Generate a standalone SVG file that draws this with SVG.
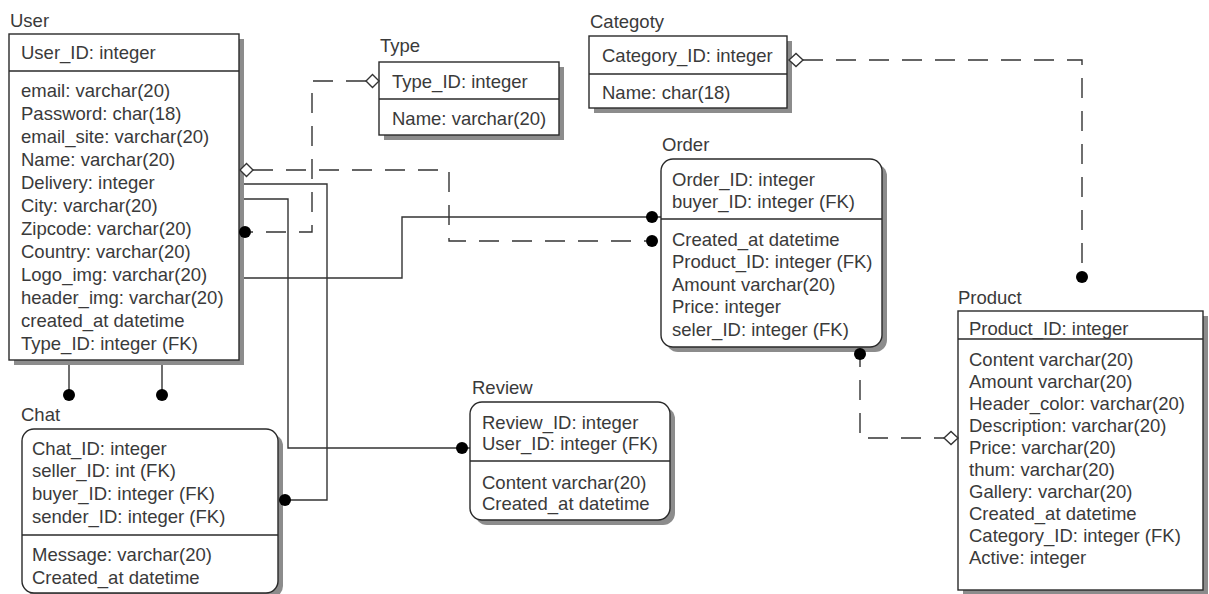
<svg xmlns="http://www.w3.org/2000/svg" width="1209" height="594" viewBox="0 0 1209 594">
<style>
.box{fill:#fff;stroke:#2a2a2a;stroke-width:1.4}
.sh{fill:#8c8c8c}
.dv{stroke:#2a2a2a;stroke-width:1.4}
text{font-family:"Liberation Sans",Arial,sans-serif;font-size:18.5px;fill:#3a3a3a}
.ln{fill:none;stroke:#333;stroke-width:1.4}
.da{stroke-dasharray:20 13}
.dot{fill:#000}
.dia{fill:#fff;stroke:#333;stroke-width:1.4}
</style>
<rect width="1209" height="594" fill="#fff"/>
<g id="connectors">
<path class="ln da" d="M366,81 H312 V232 H251"/>
<path class="ln da" d="M253,170 H449 V241 H646"/>
<path class="ln" d="M244,278 H402 V217 H661"/>
<path class="ln" d="M244,184 H327 V500 H283"/>
<path class="ln" d="M244,199 H288 V448 H470"/>
<path class="ln" d="M69,360 V395 M162,360 V395"/>
<path class="ln da" d="M803,60 H1082 V277"/>
<path class="ln da" d="M860,347 V438 H944"/>
</g>
<g id="user">
<text x="10" y="27">User</text>
<rect class="sh" x="14" y="39" width="230" height="326"/>
<rect class="box" x="9" y="34" width="230" height="326"/>
<line class="dv" x1="9" y1="71" x2="239" y2="71"/>
<text x="21" y="59">User_ID: integer</text>
<text x="21" y="96.5">email: varchar(20)</text>
<text x="21" y="119.5">Password: char(18)</text>
<text x="21" y="142.5">email_site: varchar(20)</text>
<text x="21" y="165.5">Name: varchar(20)</text>
<text x="21" y="188.5">Delivery: integer</text>
<text x="21" y="211.5">City: varchar(20)</text>
<text x="21" y="234.5">Zipcode: varchar(20)</text>
<text x="21" y="257.5">Country: varchar(20)</text>
<text x="21" y="280.5">Logo_img: varchar(20)</text>
<text x="21" y="303.5">header_img: varchar(20)</text>
<text x="21" y="326.5">created_at datetime</text>
<text x="21" y="349.5">Type_ID: integer (FK)</text>
</g>
<g id="type">
<text x="380" y="52">Type</text>
<rect class="sh" x="384" y="67" width="180" height="73"/>
<rect class="box" x="379" y="62" width="180" height="73"/>
<line class="dv" x1="379" y1="99" x2="559" y2="99"/>
<text x="392" y="87.5">Type_ID: integer</text>
<text x="392" y="124.5">Name: varchar(20)</text>
</g>
<g id="category">
<text x="590" y="28">Categoty</text>
<rect class="sh" x="594" y="41" width="198" height="72"/>
<rect class="box" x="589" y="36" width="198" height="72"/>
<line class="dv" x1="589" y1="74" x2="787" y2="74"/>
<text x="602" y="61.5">Category_ID: integer</text>
<text x="602" y="98.5">Name: char(18)</text>
</g>
<g id="order">
<text x="662" y="151">Order</text>
<rect class="sh" x="666" y="164" width="221" height="188" rx="12"/>
<rect class="box" x="661" y="159" width="221" height="188" rx="12"/>
<line class="dv" x1="661" y1="219" x2="882" y2="219"/>
<text x="672" y="185.5">Order_ID: integer</text>
<text x="672" y="208">buyer_ID: integer (FK)</text>
<text x="672" y="245.5">Created_at datetime</text>
<text x="672" y="268">Product_ID: integer (FK)</text>
<text x="672" y="290.5">Amount varchar(20)</text>
<text x="672" y="313">Price: integer</text>
<text x="672" y="335.5">seler_ID: integer (FK)</text>
</g>
<g id="product">
<text x="958" y="304">Product</text>
<rect class="sh" x="963" y="316" width="245" height="279"/>
<rect class="box" x="958" y="311" width="245" height="279"/>
<line class="dv" x1="958" y1="339" x2="1203" y2="339"/>
<text x="969" y="335">Product_ID: integer</text>
<text x="969" y="365.5">Content varchar(20)</text>
<text x="969" y="387.6">Amount varchar(20)</text>
<text x="969" y="409.7">Header_color: varchar(20)</text>
<text x="969" y="431.8">Description: varchar(20)</text>
<text x="969" y="453.9">Price: varchar(20)</text>
<text x="969" y="476">thum: varchar(20)</text>
<text x="969" y="498.1">Gallery: varchar(20)</text>
<text x="969" y="520.2">Created_at datetime</text>
<text x="969" y="542.3">Category_ID: integer (FK)</text>
<text x="969" y="564.4">Active: integer</text>
</g>
<g id="chat">
<text x="21" y="421">Chat</text>
<rect class="sh" x="27" y="434" width="256" height="164" rx="12"/>
<rect class="box" x="22" y="429" width="256" height="164" rx="12"/>
<line class="dv" x1="22" y1="535" x2="278" y2="535"/>
<text x="32" y="454.5">Chat_ID: integer</text>
<text x="32" y="477.2">seller_ID: int (FK)</text>
<text x="32" y="499.9">buyer_ID: integer (FK)</text>
<text x="32" y="522.6">sender_ID: integer (FK)</text>
<text x="32" y="560.5">Message: varchar(20)</text>
<text x="32" y="583.5">Created_at datetime</text>
</g>
<g id="review">
<text x="472" y="394">Review</text>
<rect class="sh" x="475" y="407" width="200" height="118" rx="12"/>
<rect class="box" x="470" y="402" width="200" height="118" rx="12"/>
<line class="dv" x1="470" y1="461" x2="670" y2="461"/>
<text x="482" y="428.5">Review_ID: integer</text>
<text x="482" y="450">User_ID: integer (FK)</text>
<text x="482" y="488.5">Content varchar(20)</text>
<text x="482" y="510">Created_at datetime</text>
</g>
<g id="markers">
<polygon class="dia" points="366,81 372.5,74.5 379,81 372.5,87.5"/>
<polygon class="dia" points="240,170 246.5,163.5 253,170 246.5,176.5"/>
<polygon class="dia" points="789,60 796,53.5 803,60 796,66.5"/>
<polygon class="dia" points="944,438 951,431.5 958,438 951,444.5"/>
<circle class="dot" cx="245" cy="232" r="6"/>
<circle class="dot" cx="652" cy="217" r="6"/>
<circle class="dot" cx="652" cy="241" r="6"/>
<circle class="dot" cx="285" cy="500" r="6"/>
<circle class="dot" cx="462" cy="448" r="6"/>
<circle class="dot" cx="69" cy="395" r="6"/>
<circle class="dot" cx="162" cy="395" r="6"/>
<circle class="dot" cx="1082" cy="277" r="6"/>
<circle class="dot" cx="860" cy="354" r="6"/>
</g>
</svg>
